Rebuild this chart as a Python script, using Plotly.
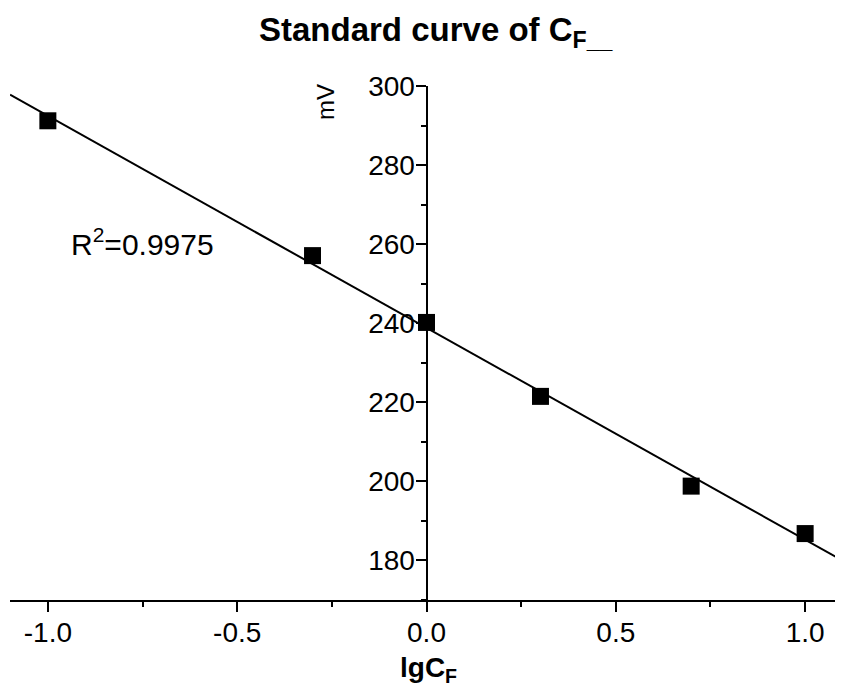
import numpy as np
import plotly.graph_objects as go

# ---- data ----
lg_c = [-1.0, -0.301, 0.0, 0.301, 0.699, 1.0]
mv = [291.2, 257.1, 240.2, 221.5, 198.8, 186.8]
x_range = [-1.1, 1.1]
y_range = [170, 300]
x_tickvals = [-1.0, -0.5, 0.0, 0.5, 1.0]
x_ticktext = ["-1.0", "-0.5", "0.0", "0.5", "1.0"]
y_tickvals = [180, 200, 220, 240, 260, 280, 300]
y_ticktext = ["180", "200", "220", "240", "260", "280", "300"]
r2_text = "R<sup>2</sup>=0.9975"
title_text = "<b>Standard curve of C<sub>F__</sub></b>"
xtitle_text = "<b>lgC<sub>F</sub></b>"
ytitle_text = "mV"

# linear fit through the points
slope, intercept = np.polyfit(lg_c, mv, 1)
fit_x = np.array(x_range)
fit_y = slope * fit_x + intercept

FONT = "Liberation Sans, Arial, sans-serif"

fig = go.Figure()
fig.add_trace(go.Scatter(x=fit_x, y=fit_y, mode="lines",
                         line=dict(color="black", width=2), showlegend=False,
                         cliponaxis=False))
fig.add_trace(go.Scatter(x=lg_c, y=mv, mode="markers",
                         marker=dict(symbol="square", size=17, color="black"),
                         showlegend=False, cliponaxis=False))

# page body has an 8px margin, so the figure is offset by (8, 8)
fig.update_layout(
    width=835, height=682,
    margin=dict(l=2, r=0, t=78, b=90),
    paper_bgcolor="white", plot_bgcolor="white",
    font=dict(family=FONT, color="black"),
    xaxis=dict(range=x_range, showgrid=False, zeroline=False,
               showline=True, linecolor="black", linewidth=2,
               ticks="outside", ticklen=10, tickwidth=2, tickcolor="black",
               tickvals=x_tickvals, ticktext=x_ticktext,
               ticklabelstandoff=-4,
               tickfont=dict(size=28, family=FONT),
               minor=dict(dtick=0.25, tick0=0, ticks="outside", ticklen=5,
                          tickwidth=2, tickcolor="black")),
    yaxis=dict(range=y_range, showgrid=False, zeroline=False,
               anchor="free", position=0.5,
               showline=True, linecolor="black", linewidth=2,
               ticks="outside", ticklen=10, tickwidth=2, tickcolor="black",
               tickvals=y_tickvals, ticktext=y_ticktext,
               ticklabelstandoff=-5,
               tickfont=dict(size=28, family=FONT),
               minor=dict(dtick=10, tick0=0, ticks="outside", ticklen=5,
                          tickwidth=2, tickcolor="black")),
)

fig.add_annotation(text=title_text, xref="x", yref="paper", x=0.026, y=1,
                   yanchor="bottom", yshift=31, showarrow=False,
                   font=dict(size=33, family=FONT, color="black"))
fig.add_annotation(text=r2_text, xref="x", yref="y", x=-0.75, y=260.5,
                   showarrow=False, font=dict(size=30, family=FONT, color="black"))
fig.add_annotation(text=ytitle_text, xref="x", yref="y", x=-0.265, y=296.0,
                   textangle=-90, showarrow=False,
                   font=dict(size=24, family=FONT, color="black"))
fig.add_annotation(text=xtitle_text, xref="x", yref="paper", x=0.005, y=0,
                   yanchor="top", yshift=-50, showarrow=False,
                   font=dict(size=28, family=FONT, color="black"))

fig.write_html("out.html")
